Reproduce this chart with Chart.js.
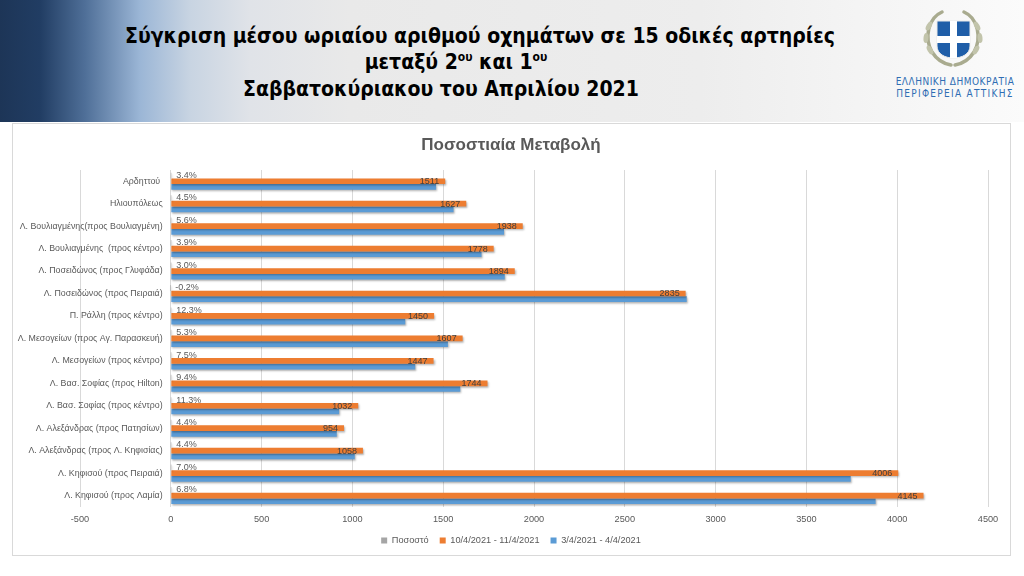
<!DOCTYPE html>
<html lang="el">
<head>
<meta charset="utf-8">
<title>Ποσοστιαία Μεταβολή</title>
<script src="https://cdn.jsdelivr.net/npm/chart.js@4.4.1/dist/chart.umd.min.js"></script>
<style>
html, body { margin: 0; padding: 0; }
body { width: 1024px; height: 576px; position: relative; overflow: hidden; background: #fff; font-family: "Liberation Sans", Arial, sans-serif; }
#header { position: absolute; left: 0; top: 0; width: 1024px; height: 122px;
  background: linear-gradient(90deg, #1d3557 0px, #213d63 40px, #4f6f98 85px, #9bb6d6 140px, #c8d4e2 190px, #e0e3e8 250px, #e9e9e9 350px, #ededed 700px, #f5f5f5 880px, #fbfbfb 1024px); }
.tline { position: absolute; width: 800px; text-align: center; font-family: "Liberation Sans Narrow", "DejaVu Sans Condensed", sans-serif;
  font-weight: bold; font-size: 21px; line-height: 26px; color: #000; white-space: nowrap; }
.tline sup { font-size: 12px; line-height: 0; vertical-align: 8px; }
#logo { position: absolute; left: 920px; top: 8px; width: 66px; height: 60px; }
.org { position: absolute; left: 894px; width: 122px; text-align: center; font-family: "Liberation Sans Narrow", "DejaVu Sans Condensed", sans-serif;
  font-size: 10px; color: #2f6db3; white-space: nowrap; }
#box { position: absolute; left: 12px; top: 123px; width: 997px; height: 431px; border: 1px solid #d9d9d9; }
#chart { position: absolute; left: 0; top: 0; }
</style>
</head>
<body>
<div id="header"></div>
<div class="tline" style="left:80px; top:23px;">Σύγκριση μέσου ωριαίου αριθμού οχημάτων σε 15 οδικές αρτηρίες</div>
<div class="tline" style="left:56px; top:49px;">μεταξύ 2<sup>ου</sup> και 1<sup>ου</sup></div>
<div class="tline" style="left:41px; top:76px;">Σαββατοκύριακου του Απριλίου 2021</div>

<svg id="logo" viewBox="0 0 66 60">
  <g fill="none" stroke="#a9ab8f" stroke-width="3.5" stroke-linecap="round">
    <path d="M22 4 C8 10 4 30 12 44 C17 52 25 56 31 57"/>
    <path d="M44 4 C58 10 62 30 54 44 C49 52 41 56 35 57"/>
  </g>
  <g fill="#c2c4ab">
    <ellipse cx="9" cy="18" rx="2.5" ry="5" transform="rotate(30 9 18)"/>
    <ellipse cx="6" cy="30" rx="2.5" ry="5" transform="rotate(5 6 30)"/>
    <ellipse cx="10" cy="42" rx="2.5" ry="5" transform="rotate(-30 10 42)"/>
    <ellipse cx="57" cy="18" rx="2.5" ry="5" transform="rotate(-30 57 18)"/>
    <ellipse cx="60" cy="30" rx="2.5" ry="5" transform="rotate(-5 60 30)"/>
    <ellipse cx="56" cy="42" rx="2.5" ry="5" transform="rotate(30 56 42)"/>
  </g>
  <path d="M17 13 H50 V38 C50 46 42 50 33.5 50 C25 50 17 46 17 38 Z" fill="#1f5ea8" stroke="#e9e9e9" stroke-width="1"/>
  <rect x="30" y="13" width="7" height="37" fill="#fff"/>
  <rect x="17" y="28" width="33" height="7" fill="#fff"/>
</svg>
<div class="org" style="top:76px; letter-spacing:0.5px;">ΕΛΛΗΝΙΚΗ ΔΗΜΟΚΡΑΤΙΑ</div>
<div class="org" style="top:88px; letter-spacing:1.3px;">ΠΕΡΙΦΕΡΕΙΑ ΑΤΤΙΚΗΣ</div>

<div id="box"></div>
<canvas id="chart" width="1024" height="576"></canvas>

<script>
// οδικές αρτηρίες (από πάνω προς τα κάτω)
var categories = [
  "Αρδηττού ",
  "Ηλιουπόλεως",
  "Λ. Βουλιαγμένης(προς Βουλιαγμένη)",
  "Λ. Βουλιαγμένης  (προς κέντρο)",
  "Λ. Ποσειδώνος (προς Γλυφάδα)",
  "Λ. Ποσειδώνος (προς Πειραιά)",
  "Π. Ράλλη (προς κέντρο)",
  "Λ. Μεσογείων (προς Αγ. Παρασκευή)",
  "Λ. Μεσογείων (προς κέντρο)",
  "Λ. Βασ. Σοφίας (προς Hilton)",
  "Λ. Βασ. Σοφίας (προς κέντρο)",
  "Λ. Αλεξάνδρας (προς Πατησίων)",
  "Λ. Αλεξάνδρας (προς Λ. Κηφισίας)",
  "Λ. Κηφισού (προς Πειραιά)",
  "Λ. Κηφισού (προς Λαμία)"
];

// ονόματα σειρών
var seriesNames = ["Ποσοστό", "10/4/2021 - 11/4/2021", "3/4/2021 - 4/4/2021"];

// ποσοστιαία μεταβολή
var percentValues = [0.034, 0.045, 0.056, 0.039, 0.030, -0.002, 0.123, 0.053, 0.075, 0.094, 0.113, 0.044, 0.044, 0.070, 0.068];
// 2ο Σαββατοκύριακο
var week2Values = [1511, 1627, 1938, 1778, 1894, 2835, 1450, 1607, 1447, 1744, 1032, 954, 1058, 4006, 4145];
// 1ο Σαββατοκύριακο
var week1Values = [1461, 1557, 1835, 1711, 1839, 2841, 1291, 1526, 1346, 1594, 927, 914, 1013, 3744, 3881];

// άξονας τιμών
var xMin  = -500;
var xMax  = 4500;
var xStep = 500;

var fontFamily = "'Liberation Sans', Arial, sans-serif";
var textGray   = "#595959";

// τίτλος και υπόμνημα κεντραρισμένα στο πλαίσιο, όχι στην περιοχή σχεδίασης
var centerBlocks = {
  id: "centerBlocks",
  afterLayout: function (chart) {
    [chart.titleBlock, chart.legend].forEach(function (b) {
      if (b) { b.left = 12; b.right = 1010; }
    });
  }
};

// σκιά στις μπάρες και ετικέτες τιμών
var barExtras = {
  id: "barExtras",
  beforeDatasetsDraw: function (chart) {
    var c = chart.ctx;
    c.save();
    c.shadowColor = "rgba(0,0,0,0.30)";
    c.shadowOffsetX = 1;
    c.shadowOffsetY = 1.5;
    c.shadowBlur = 2;
  },
  afterDatasetsDraw: function (chart) {
    var c = chart.ctx;
    c.restore();
    c.save();
    c.font = "9px " + fontFamily;
    c.textBaseline = "middle";

    // ποσοστά
    c.fillStyle = textGray;
    c.textAlign = "left";
    chart.getDatasetMeta(0).data.forEach(function (bar, i) {
      c.fillText((percentValues[i] * 100).toFixed(1) + "%", bar.base + 5, bar.y);
    });

    // τιμές 2ου Σαββατοκύριακου
    c.fillStyle = "#404040";
    c.textAlign = "right";
    chart.getDatasetMeta(1).data.forEach(function (bar, i) {
      c.fillText(String(week2Values[i]), bar.x - 6, bar.y + 0.5);
    });
    c.restore();
  }
};

var ctx = document.getElementById("chart").getContext("2d");

var chart = new Chart(ctx, {
  type: "bar",
  data: {
    labels: categories,
    datasets: [
      { label: seriesNames[0], data: percentValues, backgroundColor: "#a5a5a5", borderWidth: 0 },
      { label: seriesNames[1], data: week2Values,   backgroundColor: "#ed7d31", borderWidth: 0 },
      { label: seriesNames[2], data: week1Values,   backgroundColor: "#5b9bd5", borderWidth: 0 }
    ]
  },
  options: {
    responsive: false,
    animation: false,
    indexAxis: "y",
    layout: { padding: { left: 80, right: 36, top: 124, bottom: 21 } },
    datasets: { bar: { categoryPercentage: 0.76, barPercentage: 1 } },
    plugins: {
      title: {
        display: true,
        text: "Ποσοστιαία Μεταβολή",
        color: textGray,
        font: { family: fontFamily, size: 17, weight: "bold" },
        padding: { top: 11, bottom: 14.6 }
      },
      legend: {
        position: "bottom",
        labels: {
          boxWidth: 6,
          boxHeight: 6,
          padding: 11,
          color: textGray,
          font: { family: fontFamily, size: 9.2 }
        }
      },
      tooltip: { enabled: false }
    },
    scales: {
      x: {
        min: xMin,
        max: xMax,
        ticks: {
          stepSize: xStep,
          color: textGray,
          padding: 7,
          font: { family: fontFamily, size: 9.2 },
          callback: function (v) { return String(v); }
        },
        grid: { color: "#d9d9d9", drawTicks: false, tickLength: 0 },
        border: { display: false },
        afterFit: function (scale) { scale.height = 18; }
      },
      y: {
        // άξονας κατηγοριών λίγο αριστερά του μηδενός
        position: { x: -45 },
        grid: { display: false },
        border: { display: false },
        ticks: { color: textGray, font: { family: fontFamily, size: 8.8 } }
      }
    }
  },
  plugins: [centerBlocks, barExtras]
});
</script>
</body>
</html>
